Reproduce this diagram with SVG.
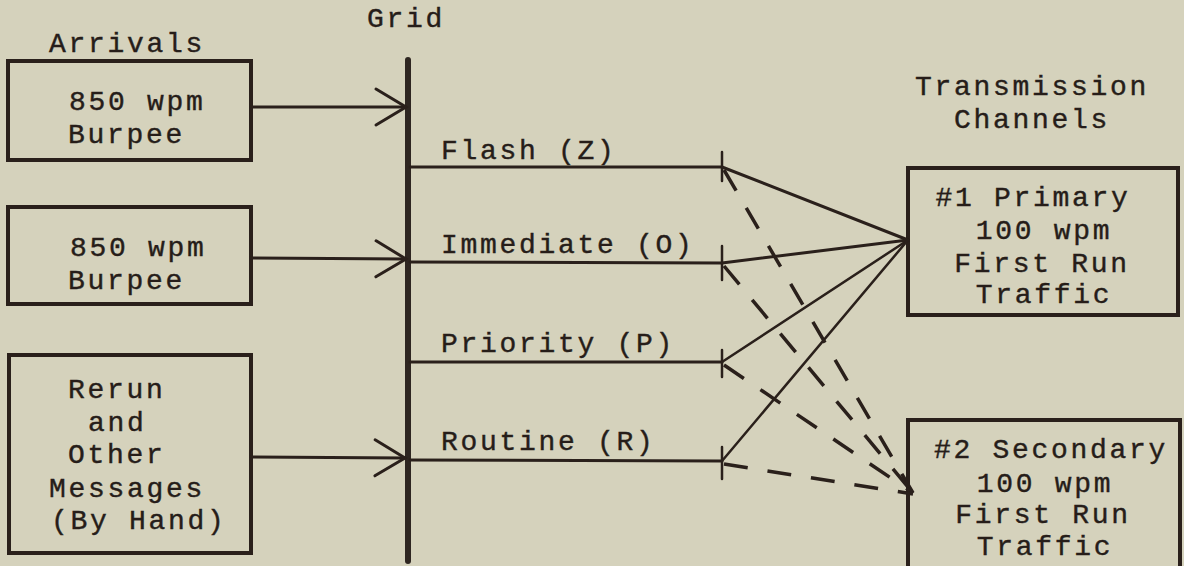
<svg xmlns="http://www.w3.org/2000/svg" width="1184" height="566" viewBox="0 0 1184 566">
  <defs>
    <style>
      .bg { fill: #d5d2bc; }
      .box { fill: none; stroke: #2a201b; stroke-width: 4; }
      .txt { font-family: "Liberation Mono", "DejaVu Sans Mono", monospace; font-size: 28px; letter-spacing: 2.7px; fill: #261d19; stroke: #261d19; stroke-width: 0.4; }
      .mid { text-anchor: middle; }
      .line { fill: none; stroke: #2a201b; stroke-width: 3; stroke-linecap: round; }
      .thin { fill: none; stroke: #2a201b; stroke-width: 2.5; stroke-linecap: round; }
      .dash { fill: none; stroke: #2a201b; stroke-width: 3.5; stroke-dasharray: 24 20; }
      .grid { stroke: #2e2621; stroke-width: 6; stroke-linecap: round; }
    </style>
    <marker id="chev" markerUnits="userSpaceOnUse" markerWidth="40" markerHeight="44" viewBox="-34 -22 40 44" refX="0" refY="0" orient="auto">
      <path d="M -30 -18 L 0 0 L -30 18" fill="none" stroke="#2a201b" stroke-width="3" stroke-linecap="round"/>
    </marker>
  </defs>

  <rect class="bg" x="0" y="0" width="1184" height="566"/>

  <!-- column headings -->
  <text class="txt mid" x="406" y="27">Grid</text>
  <text class="txt mid" x="127" y="52">Arrivals</text>
  <text class="txt mid" x="1032" y="95">Transmission</text>
  <text class="txt mid" x="1032" y="128">Channels</text>

  <!-- arrival sources -->
  <g id="arrival-1">
    <rect class="box" x="8" y="61" width="243" height="99"/>
    <text class="txt" x="69" y="110">850 wpm</text>
    <text class="txt" x="68" y="143">Burpee</text>
  </g>
  <g id="arrival-2">
    <rect class="box" x="8" y="207" width="243" height="97"/>
    <text class="txt" x="70" y="256">850 wpm</text>
    <text class="txt" x="68" y="289">Burpee</text>
  </g>
  <g id="arrival-3">
    <rect class="box" x="9" y="355" width="242" height="198"/>
    <text class="txt" x="68" y="398">Rerun</text>
    <text class="txt" x="88" y="431">and</text>
    <text class="txt" x="68" y="463">Other</text>
    <text class="txt" x="49" y="497">Messages</text>
    <text class="txt" x="51" y="529">(By Hand)</text>
  </g>

  <!-- the grid bus -->
  <g id="grid">
    <line class="grid" x1="408" y1="60" x2="408" y2="561"/>
  </g>

  <!-- precedence lines -->
  <g id="precedence">
    <text class="txt" x="441" y="159">Flash (Z)</text>
    <text class="txt" x="441" y="253">Immediate (O)</text>
    <text class="txt" x="441" y="352">Priority (P)</text>
    <text class="txt" x="441" y="450">Routine (R)</text>
  </g>

  <!-- transmission channels -->
  <g id="channel-1">
    <rect class="box" x="908" y="168" width="270" height="147"/>
    <text class="txt mid" x="1033" y="206">#1 Primary</text>
    <text class="txt mid" x="1044" y="239">100 wpm</text>
    <text class="txt mid" x="1042" y="272">First Run</text>
    <text class="txt mid" x="1044" y="303">Traffic</text>
  </g>
  <g id="channel-2">
    <rect class="box" x="908" y="420" width="272" height="160"/>
    <text class="txt mid" x="1051" y="458">#2 Secondary</text>
    <text class="txt mid" x="1045" y="492">100 wpm</text>
    <text class="txt mid" x="1043" y="523">First Run</text>
    <text class="txt mid" x="1045" y="555">Traffic</text>
  </g>

  <g id="connectors">
    <!-- arrivals into the grid -->
    <line class="line" x1="251" y1="107" x2="406" y2="107" marker-end="url(#chev)"/>
    <line class="line" x1="251" y1="258" x2="406" y2="259" marker-end="url(#chev)"/>
    <line class="line" x1="251" y1="457" x2="405" y2="458" marker-end="url(#chev)"/>

    <!-- grid out to each precedence -->
    <line class="line" x1="410" y1="167" x2="722" y2="167"/>
    <line class="line" x1="410" y1="262" x2="722" y2="263"/>
    <line class="line" x1="410" y1="362" x2="722" y2="362"/>
    <line class="line" x1="410" y1="460" x2="722" y2="461"/>

    <!-- end ticks -->
    <line class="thin" x1="722" y1="152" x2="722" y2="181"/>
    <line class="thin" x1="722" y1="246" x2="722" y2="280"/>
    <line class="thin" x1="722" y1="350" x2="722" y2="377"/>
    <line class="thin" x1="722" y1="447" x2="722" y2="479"/>

    <!-- primary channel feeds (solid) -->
    <line class="line" x1="908" y1="240" x2="722" y2="167"/>
    <line class="line" x1="908" y1="240" x2="722" y2="263"/>
    <line class="thin" x1="908" y1="240" x2="722" y2="362"/>
    <line class="thin" x1="908" y1="240" x2="722" y2="461"/>

    <!-- secondary channel feeds (dashed) -->
    <line class="dash" x1="724" y1="170" x2="913" y2="493"/>
    <line class="dash" x1="724" y1="266" x2="913" y2="493"/>
    <line class="dash" x1="724" y1="365" x2="913" y2="493"/>
    <line class="dash" x1="724" y1="464" x2="913" y2="494"/>
  </g>
</svg>
